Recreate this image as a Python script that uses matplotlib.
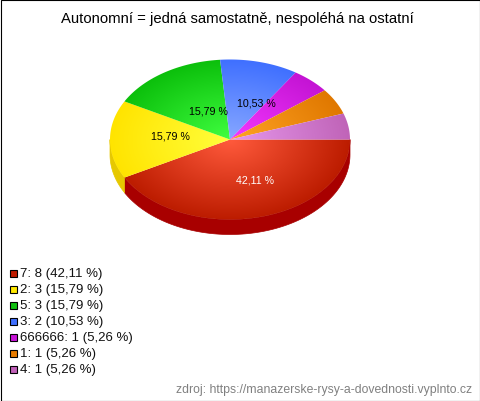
import numpy as np
import matplotlib
matplotlib.use('Agg')
import matplotlib.pyplot as plt
from matplotlib.colors import LinearSegmentedColormap
from matplotlib.patches import Polygon, Rectangle

plt.rcParams['font.family'] = ['Liberation Sans', 'DejaVu Sans']

# chart data
names = ['7', '2', '5', '3', '666666', '1', '4']
counts = [8, 3, 3, 2, 1, 1, 1]
percent_text = ['42,11 %', '15,79 %', '15,79 %', '10,53 %', '5,26 %', '5,26 %', '5,26 %']

# colours, centre -> rim of the slice
inner = ['#ff5a3c', '#ffff3c', '#40ff40', '#88a8ff', '#f438ff', '#ffa424', '#e698ec']
outer = ['#bc1c00', '#ffe400', '#0cc00c', '#4070ff', '#c414d4', '#e07800', '#c064b8']
legend_col = ['#c01c00', '#ffe800', '#10c010', '#4070ff', '#c814d8', '#e87c00', '#c060b8']
side = {0: '#a80000', 1: '#e6c800'}
label_xy = [(254.5, 181), (170, 137), (208, 112), (256, 104)]
label_col = ['white', 'black', 'black', 'black']

W, H = 480, 402
cx, cy, rx, ry, depth = 230, 140.5, 120, 80, 15

fig = plt.figure(figsize=(W / 100, H / 100), dpi=100)
ax = fig.add_axes([0, 0, 1, 1])
ax.set_xlim(0, W)
ax.set_ylim(H, 0)
ax.axis('off')

def px(n):
    return n * 72 / 100

fracs = np.array(counts) / sum(counts)
edges = np.concatenate([[0], np.cumsum(fracs)]) * 2 * np.pi

# side wall, only what faces the viewer
for i, col in side.items():
    t = np.linspace(edges[i], min(edges[i + 1], np.pi), 100)
    x = cx + rx * np.cos(t)
    y = cy + ry * np.sin(t)
    pts = np.column_stack([np.r_[x, x[::-1]], np.r_[y, y[::-1] + depth]])
    ax.add_patch(Polygon(pts, closed=True, fc=col, ec=col, lw=0.5))

# top face, radial gradient per slice
gx, gy = np.meshgrid(np.linspace(cx - rx - 2, cx + rx + 2, 500),
                     np.linspace(cy - ry - 2, cy + ry + 2, 340))
rad = np.clip(np.hypot((gx - cx) / rx, (gy - cy) / ry), 0, 1)
ext = [cx - rx - 2, cx + rx + 2, cy + ry + 2, cy - ry - 2]
for i in range(len(counts)):
    t = np.linspace(edges[i], edges[i + 1], 120)
    pts = np.column_stack([np.r_[cx, cx + rx * np.cos(t)], np.r_[cy, cy + ry * np.sin(t)]])
    clip = Polygon(pts, closed=True, transform=ax.transData, fc='none', ec='none')
    ax.add_patch(clip)
    cmap = LinearSegmentedColormap.from_list('s%d' % i, [inner[i], outer[i]])
    im = ax.imshow(rad, cmap=cmap, vmin=0, vmax=1, extent=ext, aspect='auto', zorder=2)
    im.set_clip_path(clip)
ax.set_xlim(0, W)
ax.set_ylim(H, 0)

# only the big slices carry a label
for (lx, ly), txt, col in zip(label_xy, percent_text, label_col):
    ax.text(lx, ly, txt, fontsize=px(10.6), color=col, ha='center', va='center', zorder=3)

ax.text(237.5, 19.5, 'Autonomní = jedná samostatně, nespoléhá na ostatní', fontsize=px(14.9),
        ha='center', va='center', color='black')

# legend
for i, name in enumerate(names):
    y = 274 + i * 16
    ax.add_patch(Rectangle((9.5, y - 3.5), 7, 7, fc=legend_col[i], ec='black', lw=0.8, zorder=3))
    ax.text(20, y + 0.5, '%s: %d (%s)' % (name, counts[i], percent_text[i]), fontsize=px(13.2),
            ha='left', va='center', color='#111111')

ax.text(472, 390, 'zdroj: https://manazerske-rysy-a-dovednosti.vyplnto.cz', fontsize=px(12.3),
        ha='right', va='center', color='#808080')

# outer frame
ax.add_patch(Rectangle((0.5, 0.5), W - 1, H - 1, fc='none', ec='black', lw=0.8, zorder=5))

fig.savefig('out.png', dpi=100)
